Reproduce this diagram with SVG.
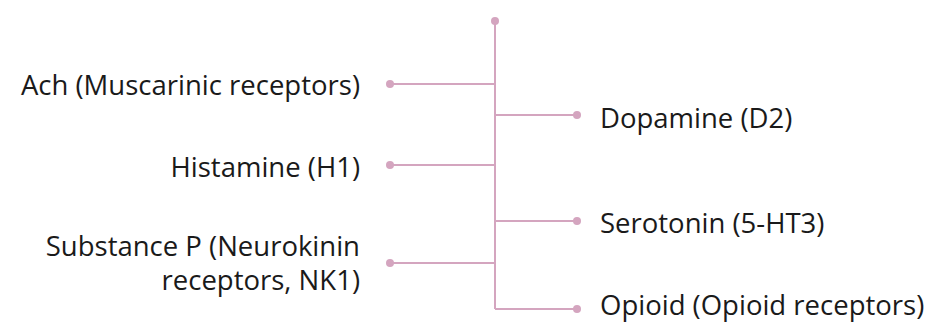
<svg xmlns="http://www.w3.org/2000/svg" width="937" height="324" viewBox="0 0 937 324">
<style>
.ln{stroke:#d4a5bf;stroke-width:2;fill:none}
.dot{fill:#d4a5bf}
.t{font-family:"Open Sans","Noto Sans",sans-serif;font-size:27.5px;fill:#1a1a1a}
.l{text-anchor:end}
</style>
<rect width="937" height="324" fill="#ffffff"/>
<g id="connectors">
<path class="ln" d="M495 21V309"/>
<path class="ln" d="M390 84H495"/>
<path class="ln" d="M390 165H495"/>
<path class="ln" d="M390 263H495"/>
<path class="ln" d="M495 115H577"/>
<path class="ln" d="M495 221H577"/>
<path class="ln" d="M495 309H577"/>
</g>
<g id="root"><circle class="dot" cx="495" cy="21" r="4"/></g>
<g id="ach"><circle class="dot" cx="390" cy="84" r="4"/><text class="t l" x="360" y="95">Ach (Muscarinic receptors)</text></g>
<g id="histamine"><circle class="dot" cx="390" cy="165" r="4"/><text class="t l" x="360" y="177">Histamine (H1)</text></g>
<g id="substancep"><circle class="dot" cx="390" cy="263" r="4"/><text class="t l" x="360" y="256">Substance P (Neurokinin</text><text class="t l" x="360" y="290">receptors, NK1)</text></g>
<g id="dopamine"><circle class="dot" cx="577" cy="115" r="4"/><text class="t" x="600" y="128">Dopamine (D2)</text></g>
<g id="serotonin"><circle class="dot" cx="577" cy="221" r="4"/><text class="t" x="600" y="233">Serotonin (5-HT3)</text></g>
<g id="opioid"><circle class="dot" cx="577" cy="309" r="4"/><text class="t" x="600" y="315">Opioid (Opioid receptors)</text></g>
</svg>
